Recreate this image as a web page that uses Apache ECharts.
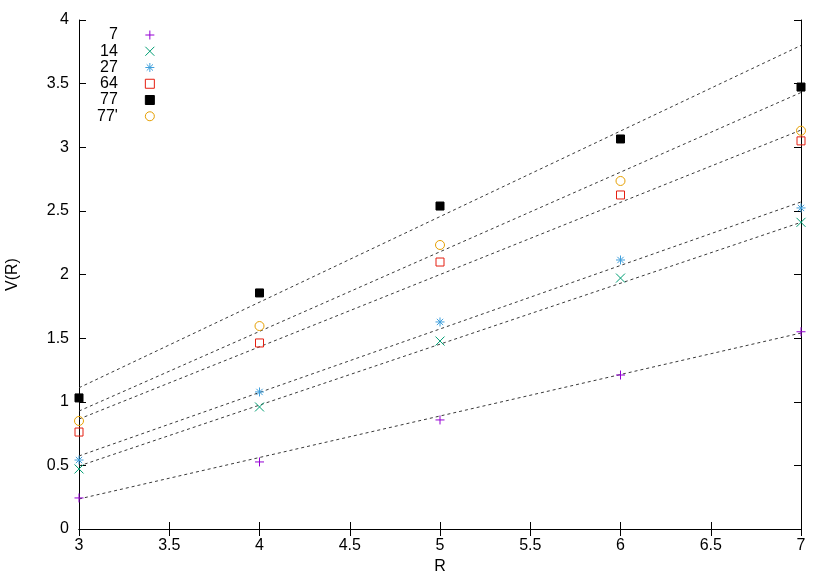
<!DOCTYPE html>
<html><head><meta charset="utf-8">
<script src="https://cdn.jsdelivr.net/npm/echarts@6/dist/echarts.min.js"></script>
<style>html,body{margin:0;padding:0;background:#fff}#c{width:830px;height:581px}</style>
</head><body><div id="c"></div>
<script>
// ---- data ----
const rValues = [3, 4, 5, 6, 7];
const seriesNames = ['7', '14', '27', '64', '77', "77'"];
const v7   = [0.244, 0.527, 0.857, 1.21, 1.55];
const v14  = [0.472, 0.959, 1.477, 1.972, 2.41];
const v27  = [0.542, 1.077, 1.627, 2.114, 2.523];
const v64  = [0.762, 1.462, 2.098, 2.625, 3.05];
const v77  = [1.03, 1.855, 2.538, 3.065, 3.473];
const v77p = [0.849, 1.595, 2.232, 2.735, 3.13];
// fitted lines, value at R=3 and R=7
const fitR   = [3, 7];
const fit7   = [0.236, 1.54];
const fit14  = [0.495, 2.41];
const fit27  = [0.574, 2.57];
const fit64  = [0.864, 3.135];
const fit77p = [0.927, 3.43];
const fit77  = [1.11, 3.80];
const xName = 'R';
const yName = 'V(R)';

// ---- styles ----
const FONT = "'Liberation Sans', Arial, sans-serif";
const colors = ['#9400d3', '#009e73', '#3f9fdc', '#e51e10', '#000000', '#e69f00'];
const symbols = [
  'path://M0,5L10,5M5,0L5,10',
  'path://M0,0L10,10M10,0L0,10',
  'path://M0,5L10,5M5,0L5,10M1.5,1.5L8.5,8.5M8.5,1.5L1.5,8.5',
  'path://M0,0L10,0L10,10L0,10Z',
  'path://M0,0L10,0L10,10L0,10Z',
  'path://M10,5A5,5,0,1,1,0,5A5,5,0,1,1,10,5Z'
];
const filled = [false, false, false, false, true, false];
const sizes = [9, 9, 9, 8, 8, 9];
const values = [v7, v14, v27, v64, v77, v77p];
const fits = [fit7, fit14, fit27, fit64, fit77, fit77p];

const zip = (xs, ys) => xs.map((x, i) => [x, ys[i]]);

const series = [];
fits.forEach((f, i) => {
  series.push({
    type: 'line', name: 'fit' + i, data: zip(fitR, f),
    showSymbol: false, symbol: 'none', silent: true, z: 1,
    lineStyle: { color: '#3a3a3a', width: 1, type: [3, 3] }
  });
});
values.forEach((v, i) => {
  series.push({
    type: 'scatter', name: seriesNames[i], data: zip(rValues, v),
    symbol: symbols[i], symbolSize: sizes[i], symbolKeepAspect: true, z: 3,
    itemStyle: {
      color: filled[i] ? colors[i] : 'rgba(0,0,0,0)',
      borderColor: colors[i], borderWidth: 1, opacity: 1
    }
  });
});

const axisCommon = {
  axisLine: { show: true, lineStyle: { color: '#000', width: 1 } },
  axisTick: { show: true, inside: true, length: 7, lineStyle: { color: '#000', width: 1 } },
  splitLine: { show: false }
};

const chart = echarts.init(document.getElementById('c'), null, { renderer: 'canvas' });
chart.setOption({
  animation: false,
  backgroundColor: '#fff',
  grid: { left: 79, right: 29, top: 20, bottom: 52, containLabel: false, outerBoundsMode: 'none' },
  xAxis: [
    Object.assign({
      type: 'value', min: 3, max: 7, interval: 0.5, position: 'bottom',
      name: xName, nameLocation: 'middle', nameGap: 26,
      nameTextStyle: { fontFamily: FONT, fontSize: 16, color: '#000' },
      axisLabel: { fontFamily: FONT, fontSize: 16, color: '#000', margin: 9 }
    }, axisCommon),
    Object.assign({
      type: 'value', min: 3, max: 7, interval: 0.5, position: 'top',
      axisLabel: { show: false }
    }, axisCommon)
  ],
  yAxis: [
    Object.assign({
      type: 'value', min: 0, max: 4, interval: 0.5, position: 'left',
      name: yName, nameLocation: 'middle', nameGap: 58, nameRotate: 90,
      nameTextStyle: { fontFamily: FONT, fontSize: 16, color: '#000' },
      axisLabel: { fontFamily: FONT, fontSize: 16, color: '#000', margin: 10 }
    }, axisCommon),
    Object.assign({
      type: 'value', min: 0, max: 4, interval: 0.5, position: 'right',
      axisLabel: { show: false }
    }, axisCommon)
  ],
  legend: {
    orient: 'vertical', align: 'right', left: 92, top: 22,
    itemGap: 0.25, itemWidth: 54, itemHeight: 9, padding: 5,
    symbolKeepAspect: true,
    itemStyle: { borderWidth: 1 },
    textStyle: { fontFamily: FONT, fontSize: 16, color: '#000', lineHeight: 16 },
    data: seriesNames.map((n, i) => ({ name: n, icon: symbols[i] }))
  },
  series: series
});
</script>
</body></html>
